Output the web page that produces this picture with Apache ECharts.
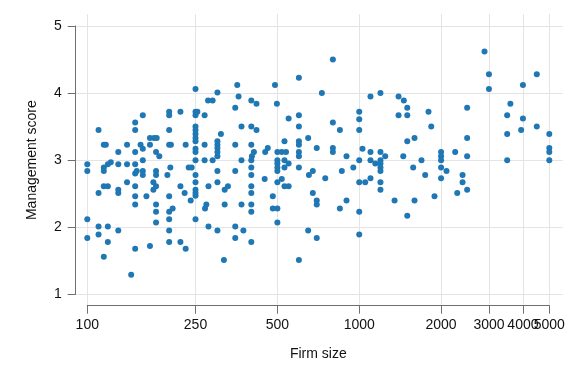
<!DOCTYPE html>
<html><head><meta charset="utf-8">
<script src="https://cdn.jsdelivr.net/npm/echarts@6/dist/echarts.min.js"></script>
<style>html,body{margin:0;padding:0;background:#fff}#c{width:576px;height:384px}</style>
</head><body><div id="c"></div>
<script>
// Tick values
const xTicks = [100, 250, 500, 1000, 2000, 3000, 4000, 5000];
const yTicks = [1, 2, 3, 4, 5];

// Firms 100-250 employees, upper half
const sizeA = [250,160,200,200,220,250,250,150,110,150,200,250,250,250,250,250,170,176,180,115,117,140,157,170,200,203,230,160,250,250,130,150,179,184,160,250];
const scoreA = [4.06,3.67,3.72,3.67,3.72,3.72,3.67,3.56,3.45,3.45,3.45,3.50,3.45,3.39,3.33,3.28,3.33,3.33,3.33,3.23,3.23,3.23,3.23,3.23,3.23,3.23,3.23,3.17,3.17,3.12,3.12,3.12,3.12,3.06,3.00,3.00];

// Firms 100-250 employees, lower half
const sizeB = [100,100,115,115,119,122,130,140,150,150,152,160,160,179,179,197,202,236,242,250,115,119,140,150,175,179,175,220,250,110,130,130,150,165,200,228,250,250,240,150,179,179,206,200,179,100,200,250,110,119,130,200,100,110,119,200,220,230,150,170,115,145];
const scoreB = [2.94,2.84,2.89,2.84,2.94,2.97,2.94,2.94,2.94,2.80,2.84,2.84,2.78,2.84,2.78,2.78,2.89,2.89,2.89,2.78,2.61,2.61,2.67,2.61,2.67,2.61,2.56,2.61,2.67,2.51,2.56,2.51,2.46,2.46,2.46,2.51,2.56,2.51,2.40,2.34,2.34,2.23,2.28,2.23,2.07,2.12,2.12,2.12,2.01,2.01,1.95,1.95,1.84,1.89,1.78,1.78,1.78,1.68,1.68,1.72,1.56,1.29];

// Firms 250-700 employees, upper half
const sizeC = [600,356,490,301,360,278,289,401,419,498,350,254,270,550,600,600,369,401,419,310,649,301,301,301,301,301,270,350,401,531,600,600,698,461,451,410,403,500,519,538,600,600,270,289,369,401,500,531];
const scoreC = [4.23,4.12,4.12,4.01,3.95,3.89,3.89,3.89,3.84,3.84,3.78,3.72,3.67,3.62,3.67,3.50,3.50,3.50,3.45,3.39,3.33,3.28,3.23,3.18,3.12,3.06,3.23,3.23,3.23,3.28,3.28,3.23,3.18,3.18,3.12,3.12,3.06,3.12,3.12,3.12,3.12,3.06,3.00,3.00,3.00,3.00,3.00,3.00];

// Firms 250-700 employees, lower half
const sizeD = [401,401,401,401,401,401,500,500,500,550,531,600,653,675,250,301,350,279,301,320,329,449,500,519,531,550,481,481,500,675,698,698,274,271,320,369,279,301,350,375,350,401,500,649,698,318,600];
const scoreD = [2.89,2.78,2.61,2.51,2.34,2.23,2.95,2.89,2.84,2.95,2.89,2.89,2.78,2.84,2.47,2.84,2.84,2.61,2.67,2.56,2.61,2.72,2.67,2.72,2.61,2.61,2.46,2.28,2.28,2.51,2.40,2.34,2.34,2.28,2.34,2.34,2.01,1.95,2.01,1.95,1.84,1.78,2.07,1.95,1.84,1.51,1.51];

// Firms 700-2000 employees, upper half
const sizeE = [800,729,1100,1197,1395,1459,1502,1395,1502,1798,1840,1000,1000,1000,800,849,1502,1597,800,800,898,1028,1100,1197,1246,1452,1000,1100,1146,1197,1197,1694];
const scoreE = [4.50,4.00,3.95,4.00,3.95,3.89,3.78,3.67,3.67,3.72,3.50,3.72,3.61,3.45,3.56,3.45,3.28,3.33,3.18,3.12,3.06,3.17,3.12,3.12,3.06,3.06,3.00,3.00,2.95,3.00,2.95,3.00];

// Firms 700-2000 employees, lower half
const sizeF = [1197,1197,750,863,951,1000,1052,1100,1197,1197,849,898,1000,1349,1502,1597,1579,1748,1892,1000];
const scoreF = [2.89,2.84,2.73,2.84,2.89,2.67,2.67,2.73,2.67,2.56,2.28,2.40,2.23,2.40,2.17,2.40,2.89,2.78,2.46,1.89];

// Firms 2000+ employees
const sizeG = [2889,3000,3000,4000,4498,2494,3597,3500,4000,3940,4498,3500,5000,2494,5000,5000,2000,2000,2000,2254,2494,3500,5000,2000,2094,2000,2399,2399,2293,2494];
const scoreG = [4.62,4.28,4.06,4.12,4.28,3.78,3.84,3.67,3.62,3.45,3.50,3.39,3.39,3.33,3.18,3.12,3.12,3.06,3.00,3.12,3.06,3.00,3.00,2.89,2.84,2.73,2.78,2.67,2.51,2.56];

const sizes = [].concat(sizeA, sizeB, sizeC, sizeD, sizeE, sizeF, sizeG);
const scores = [].concat(scoreA, scoreB, scoreC, scoreD, scoreE, scoreF, scoreG);
const points = sizes.map((s, i) => [s, scores[i]]);

const FONT = '"Liberation Sans", Arial, Helvetica, sans-serif';
const axisGray = '#6f6f6f', gridGray = '#e4e4e4', textCol = '#111';
const X_MIN = 100, X_MAX = 5000.5;
// last label drawn on its own axis so the auto max-label overlap rule keeps both
const xLabelsMain = xTicks.slice(0, xTicks.length - 1);
const xLabelsLast = xTicks.slice(xTicks.length - 1);
const fmt = v => String(Math.round(v));

const chart = echarts.init(document.getElementById('c'), null, {renderer: 'canvas'});
chart.setOption({
  animation: false,
  backgroundColor: '#fff',
  grid: [
    // data area: 100..5000 x 1..5 ; y axis sits 11.6px left, x axis 11.4px below
    {left: 87.3, top: 26, width: 462, height: 268.3},
    // horizontal gridlines spanning full plot region
    {left: 75.7, top: 26, width: 487, height: 268.3},
    // vertical gridlines spanning full plot region
    {left: 87.3, top: 14, width: 462, height: 291.7}
  ],
  xAxis: [
    {
      gridIndex: 0, type: 'log', logBase: 10, min: X_MIN, max: X_MAX, offset: 11.4,
      axisLine: {show: true, onZero: false, lineStyle: {color: axisGray, width: 1}},
      axisTick: {show: true, length: 8, customValues: xTicks, lineStyle: {color: axisGray, width: 1}},
      axisLabel: {show: true, customValues: xLabelsMain, fontSize: 14, color: textCol, fontFamily: FONT,
        margin: 12, formatter: fmt},
      splitLine: {show: false},
      name: 'Firm size', nameLocation: 'middle', nameGap: 41,
      nameTextStyle: {fontSize: 14, color: textCol, fontFamily: FONT}
    },
    {gridIndex: 1, type: 'value', min: 0, max: 1,
      axisLine: {show: false}, axisTick: {show: false}, axisLabel: {show: false}, splitLine: {show: false}},
    {
      gridIndex: 2, type: 'log', logBase: 10, min: X_MIN, max: X_MAX,
      axisLine: {show: false}, axisTick: {show: false, customValues: xTicks},
      axisLabel: {show: true, customValues: xLabelsLast, fontSize: 14, color: textCol, fontFamily: FONT,
        margin: 12, formatter: fmt},
      splitLine: {show: true, lineStyle: {color: gridGray, width: 1}}
    }
  ],
  yAxis: [
    {
      gridIndex: 0, type: 'value', min: 1, max: 5, interval: 1, offset: 11.6,
      axisLine: {show: true, onZero: false, lineStyle: {color: axisGray, width: 1}},
      axisTick: {show: true, length: 8, lineStyle: {color: axisGray, width: 1}},
      axisLabel: {show: true, fontSize: 14, color: textCol, fontFamily: FONT, margin: 14, formatter: v => String(v)},
      splitLine: {show: false},
      name: 'Management score', nameLocation: 'middle', nameGap: 37, nameRotate: 90,
      nameTextStyle: {fontSize: 14, color: textCol, fontFamily: FONT}
    },
    {
      gridIndex: 1, type: 'value', min: 1, max: 5, interval: 1,
      axisLine: {show: false}, axisTick: {show: false}, axisLabel: {show: false},
      splitLine: {show: true, lineStyle: {color: gridGray, width: 1}}
    },
    {gridIndex: 2, type: 'value', min: 0, max: 1,
      axisLine: {show: false}, axisTick: {show: false}, axisLabel: {show: false}, splitLine: {show: false}}
  ],
  series: [{
    type: 'scatter', xAxisIndex: 0, yAxisIndex: 0, data: points,
    symbol: 'circle', symbolSize: 6,
    itemStyle: {color: '#1f77b4', opacity: 1},
    z: 5
  }]
});
</script></body></html>
